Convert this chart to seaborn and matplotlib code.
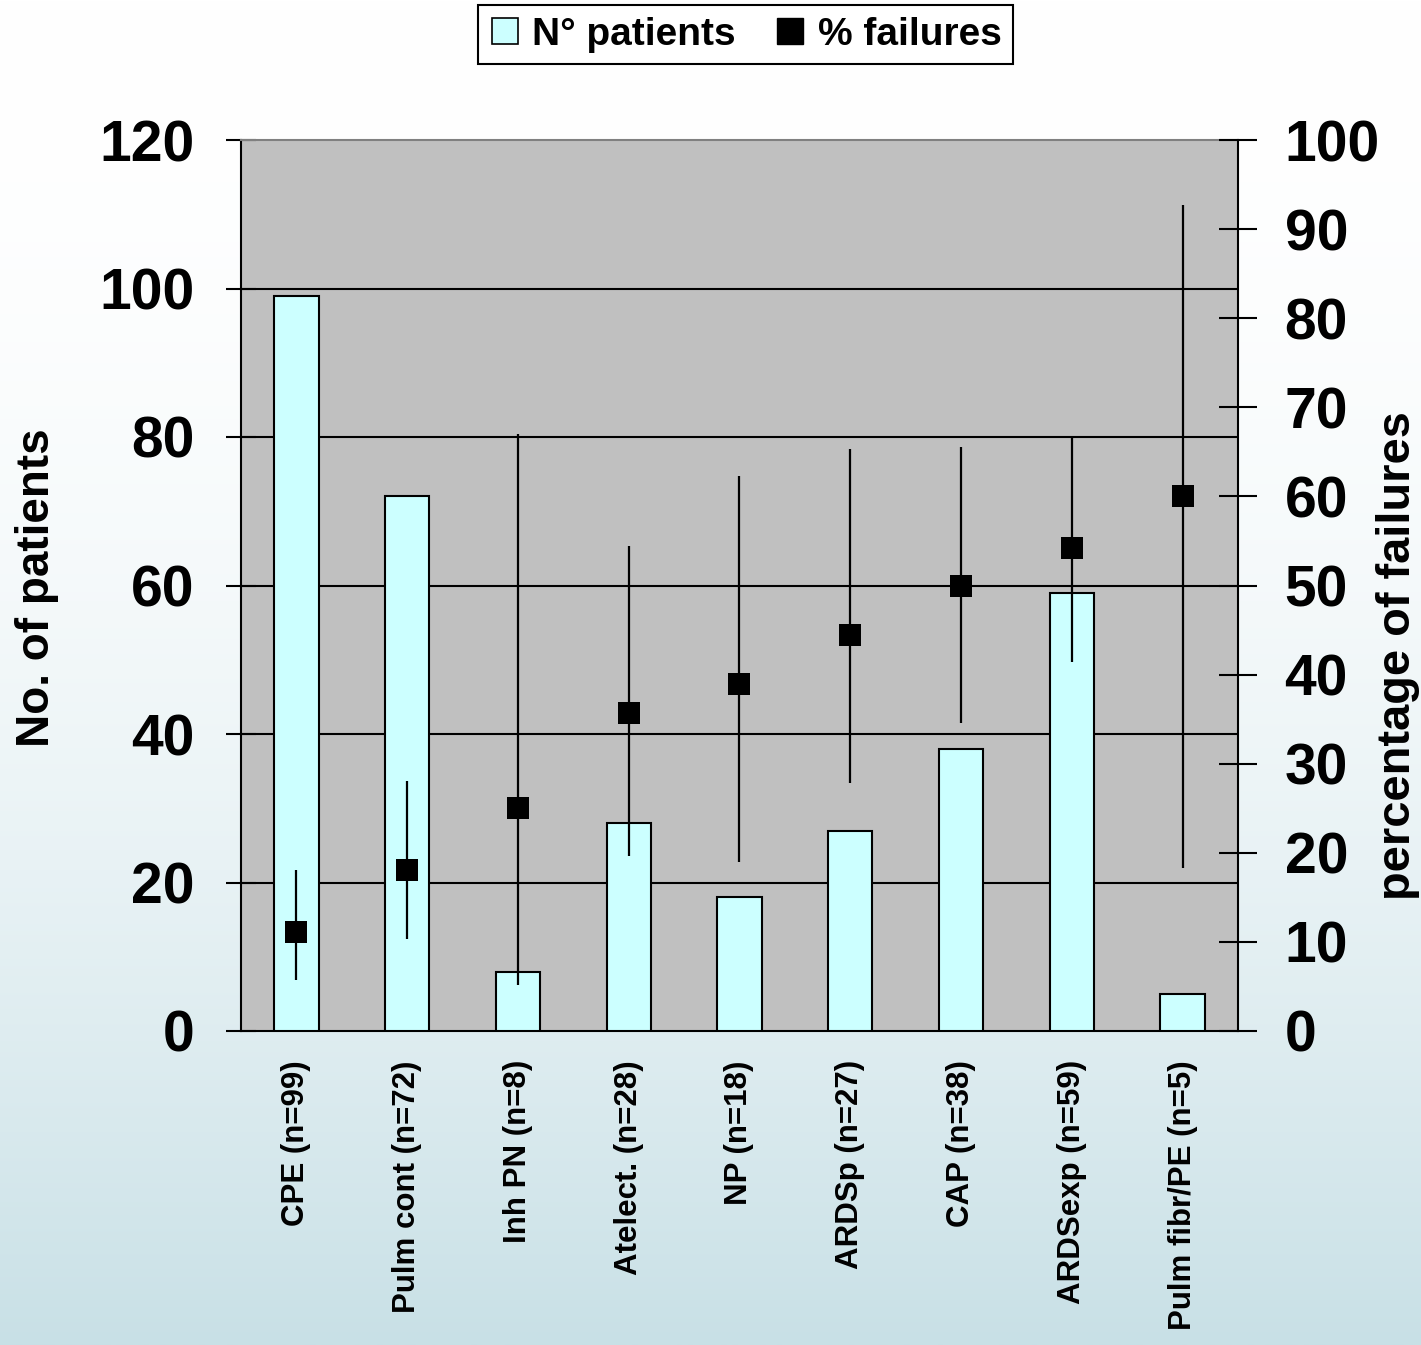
import numpy as np
import pandas as pd
import matplotlib
matplotlib.use("Agg")
import matplotlib.pyplot as plt
import seaborn as sns
from matplotlib.lines import Line2D

# ---- data ---------------------------------------------------------------
categories = ["CPE (n=99)", "Pulm cont (n=72)", "Inh PN (n=8)", "Atelect. (n=28)",
              "NP (n=18)", "ARDSp (n=27)", "CAP (n=38)", "ARDSexp (n=59)",
              "Pulm fibr/PE (n=5)"]
patients = [99, 72, 8, 28, 18, 27, 38, 59, 5]
failure_pct = [11.1, 18.1, 25.0, 35.7, 38.9, 44.4, 50.0, 54.2, 60.0]
ci_low = [5.7, 10.3, 5.2, 19.6, 19.0, 27.8, 34.6, 41.4, 18.3]
ci_high = [18.1, 28.1, 67.0, 54.4, 62.3, 65.3, 65.5, 66.5, 92.7]
left_ticks = [0, 20, 40, 60, 80, 100, 120]
right_ticks = [0, 10, 20, 30, 40, 50, 60, 70, 80, 90, 100]

sns.set_style("white")
plt.rcParams["font.family"] = ["Liberation Sans", "DejaVu Sans"]
plt.rcParams["font.weight"] = "bold"
for key in ("text.color", "axes.labelcolor", "xtick.color", "ytick.color"):
    plt.rcParams[key] = "black"

BAR_COLOR = "#CCFFFF"
PLOT_BG = "#C0C0C0"

fig = plt.figure(figsize=(14.21, 13.45), dpi=100)

# vertical background gradient: white at the top, pale blue-grey at the bottom
bg = fig.add_axes([0, 0, 1, 1], zorder=-10)
t = (np.linspace(0, 1, 600) ** 2)[:, None]
top = np.array([255, 255, 255]) / 255
bottom = np.array([200, 224, 230]) / 255
grad = top + (bottom - top) * t
bg.imshow(grad.reshape(600, 1, 3), aspect="auto", extent=[0, 1, 0, 1])
bg.axis("off")

ax = fig.add_axes([241 / 1421, 1 - 1031 / 1345, (1238 - 241) / 1421, (1031 - 140) / 1345])
ax.set_facecolor(PLOT_BG)

df = pd.DataFrame({"category": categories, "patients": patients})
sns.barplot(data=df, x="category", y="patients", color=BAR_COLOR, saturation=1,
            width=0.4, edgecolor="black", linewidth=1.5, ax=ax, zorder=3)

ax.set_xlim(-0.5, len(categories) - 0.5)
ax.set_ylim(0, 120)
ax.set_yticks(left_ticks)
ax.set_yticklabels([str(v) for v in left_ticks], fontsize=41, fontweight="bold")
for v in left_ticks[1:-1]:
    ax.axhline(v, color="black", lw=1.5, zorder=1)

ax.set_xticks(np.arange(len(categories)))
ax.set_xticklabels(categories, rotation=90, fontsize=22.5, fontweight="bold")
ax.set_xticks(np.arange(-0.5, len(categories), 1), minor=True)
ax.tick_params(axis="x", which="major", length=0, pad=21)
ax.tick_params(axis="x", which="minor", direction="inout", length=16, width=1.5, color="black")
ax.tick_params(axis="y", direction="inout", length=21, width=1.5, color="black", pad=23)
ax.set_xlabel("")
ax.set_ylabel("")

for side in ("left", "bottom"):
    ax.spines[side].set_color("black")
    ax.spines[side].set_linewidth(1.5)
ax.spines["top"].set_color("#808080")
ax.spines["top"].set_linewidth(1.5)
ax.spines["right"].set_visible(False)

# ---- failure percentages on the secondary axis ----------------------------
ax2 = ax.twinx()
ax2.set_ylim(0, 100)
ax2.set_yticks(right_ticks)
ax2.set_yticklabels([str(v) for v in right_ticks], fontsize=41, fontweight="bold")
ax2.tick_params(axis="y", direction="inout", length=27, width=1.5, color="black", pad=20)
for side in ("left", "top", "bottom"):
    ax2.spines[side].set_visible(False)
ax2.spines["right"].set_color("black")
ax2.spines["right"].set_linewidth(1.5)

xpos = np.arange(len(categories))
pct = np.array(failure_pct)
ax2.vlines(xpos, ci_low, ci_high, color="black", lw=1.6, zorder=4)
pf = pd.DataFrame({"x": xpos, "pct": pct})
sns.scatterplot(data=pf, x="x", y="pct", marker="s", s=16.5 ** 2, color="black",
                edgecolor="black", linewidth=0, ax=ax2, zorder=5, legend=False)
ax2.set_xlabel("")
ax2.set_ylabel("")
ax.set_xlim(-0.5, len(categories) - 0.5)

# ---- axis titles ----------------------------------------------------------
fig.text(37 / 1421, 1 - 588 / 1345, "No. of patients", rotation=90, fontsize=33,
         fontweight="bold", ha="center", va="center")
fig.text(1398 / 1421, 1 - 656 / 1345, "percentage of failures", rotation=90,
         fontsize=33.8, fontweight="bold", ha="center", va="center")

# ---- legend ---------------------------------------------------------------
handles = [
    Line2D([], [], marker="s", linestyle="none", markersize=19,
           markerfacecolor=BAR_COLOR, markeredgecolor="black", markeredgewidth=1.2),
    Line2D([], [], marker="s", linestyle="none", markersize=19,
           markerfacecolor="black", markeredgecolor="black"),
]
leg = fig.legend(handles, ["N° patients", "% failures"], loc="upper center",
                 bbox_to_anchor=(745.5 / 1421, 1 - 5 / 1345), ncol=2,
                 frameon=True, fancybox=False, edgecolor="black", facecolor="white",
                 framealpha=1, borderpad=0.3, borderaxespad=0, handlelength=0.8,
                 handletextpad=0.3, columnspacing=1.0,
                 prop={"size": 28, "weight": "bold"})
leg.get_frame().set_linewidth(1.5)

fig.savefig("out.png", dpi=100)
